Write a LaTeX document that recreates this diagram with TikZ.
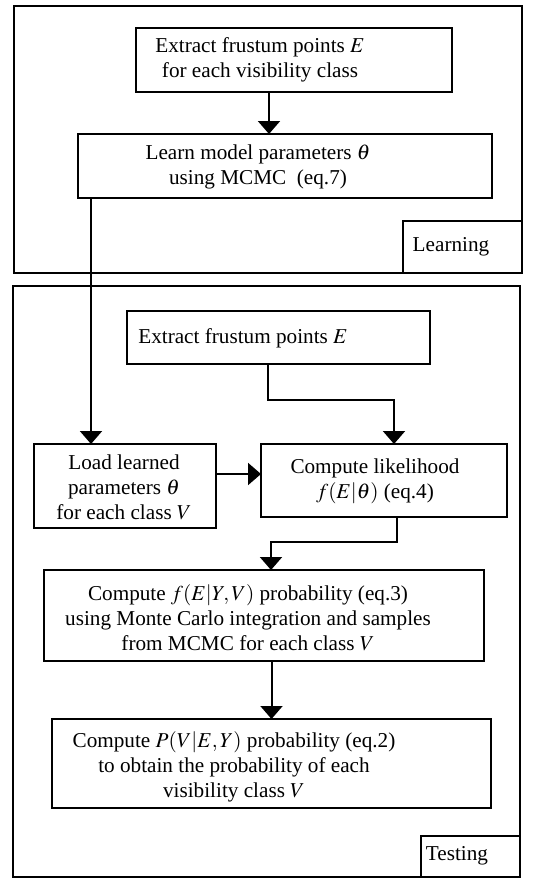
\documentclass[tikz,border=0pt]{standalone}
\usepackage{mathptmx}
\usepackage{fontspec}
\setmainfont{Liberation Serif}
\usepackage{tikz}
\usetikzlibrary{arrows.meta}

\tikzset{
  box/.style={draw, line width=0.9pt, inner sep=0pt, outer sep=0pt},
  frame/.style={draw, line width=1pt},
  txt/.style={align=center, inner sep=0pt, font=\fontsize{10.6}{12.5}\selectfont},
  arr/.style={line width=1pt, -{Triangle[width=11pt,length=6.5pt]}}
}

\begin{document}
\begin{tikzpicture}[x=0.5pt, y=-0.5pt]
  \useasboundingbox (0,0) rectangle (536,879);
  % outer frames
  \draw[frame] (14,6) rectangle (522,273);
  \draw[frame] (403,221) rectangle (522,273);
  \draw[frame] (13,286) rectangle (520,877);
  \draw[frame] (421,836) rectangle (520,877);
  \node[txt] (learning) at (451,247) {Learning};
  \node[txt] (testing) at (457,856) {Testing};
  % boxes
  \node[box, minimum width=158pt, minimum height=32pt] (extractA) at (294,60) {};
  \node[box, minimum width=207pt, minimum height=32pt] (learn) at (285,166) {};
  \node[box, minimum width=151.5pt, minimum height=26.5pt] (extractB) at (278.5,337.5) {};
  \node[box, minimum width=91pt, minimum height=42pt] (loadpar) at (125,486) {};
  \node[box, minimum width=123pt, minimum height=36.5pt] (likeli) at (384,480.5) {};
  \node[box, minimum width=220pt, minimum height=45.5pt] (fyv) at (264,615.5) {};
  \node[box, minimum width=219.5pt, minimum height=44.5pt] (pvey) at (271.5,763.5) {};
  % texts
  \node[txt] (extractAtext) at (260,60) {Extract frustum points $E$\\for each visibility class};
  \node[txt] (learntext) at (258,167) {Learn model parameters $\theta$\\using MCMC~~(eq.7)};
  \node[txt] (extractBtext) at (243,338) {Extract frustum points $E$};
  \node[txt] (loadpartext) at (124,487) {Load learned\\parameters $\theta$\\for each class $V$};
  \node[txt] (likelitext) at (375,481) {Compute likelihood\\$f(E|\theta)$ (eq.4)};
  \node[txt] (fyvtext) at (248,618) {Compute $f(E|Y,V)$ probability (eq.3)\\using Monte Carlo integration and samples\\from MCMC for each class $V$};
  \node[txt] (pveytext) at (234,767) {Compute $P(V|E,Y)$ probability (eq.2)\\to obtain the probability of each\\visibility class $V$};
  % connectors
  \draw[arr] ([xshift=-12.5pt]extractA.south) -- ([xshift=-12.5pt]extractA.south |- learn.north);
  \draw[arr] ([xshift=-17pt]loadpar.north |- learn.south) -- ([xshift=-17pt]loadpar.north);
  \draw[arr] ([xshift=-5.5pt]extractB.south) -- ++(0,-18pt) -| ([xshift=5pt]likeli.north);
  \draw[arr] ([yshift=6pt]loadpar.east) -- ([yshift=6pt]loadpar.east -| likeli.west);
  \draw[arr] ([xshift=6.5pt]likeli.south) -- ++(0,-12.5pt) -| ([xshift=3.5pt]fyv.north);
  \draw[arr] (pvey.north |- fyv.south) -- (pvey.north);
\end{tikzpicture}
\end{document}
